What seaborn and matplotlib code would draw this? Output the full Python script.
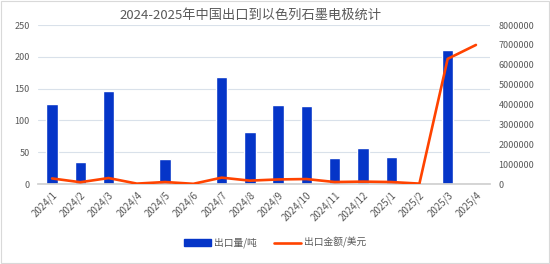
import numpy as np
import pandas as pd
import matplotlib
matplotlib.use("Agg")
import matplotlib.pyplot as plt
import seaborn as sns
from matplotlib.patches import Patch
from matplotlib.lines import Line2D

months = ["2024/1", "2024/2", "2024/3", "2024/4", "2024/5", "2024/6", "2024/7", "2024/8",
          "2024/9", "2024/10", "2024/11", "2024/12", "2025/1", "2025/2", "2025/3", "2025/4"]
qty_tons = [126, 34, 147, 0, 40, 0, 168, 82, 125, 123, 41, 57, 43, 0, 211, 0]
amount_usd = [280000, 90000, 300000, 20000, 100000, 10000, 320000, 170000, 230000, 250000,
              100000, 120000, 100000, 20000, 6300000, 7000000]

sns.set_theme(style="white")
plt.rcParams['font.family'] = ['Noto Sans CJK SC', 'DejaVu Sans']

TXT = "#595959"
BAR = "#0535C8"
LINE = "#FF4300"
GRID = "#D9E1EA"

df = pd.DataFrame({"month": months, "qty": qty_tons, "amt": amount_usd})

fig = plt.figure(figsize=(5.5, 2.64), dpi=100)
ax = fig.add_axes([0.069, 0.303, 0.822, 0.602])
sns.barplot(data=df, x="month", y="qty", color=BAR, width=0.4, saturation=1, ax=ax)
ax.set_ylim(0, 250)
ax.set_yticks(range(0, 251, 50))
ax.set_xlim(-0.5, len(months) - 0.5)
ax.yaxis.grid(True, color=GRID, linewidth=0.8)
ax.set_axisbelow(True)
for s in ["top", "right", "left"]:
    ax.spines[s].set_visible(False)
ax.spines["bottom"].set_color("#D0D0D0")
ax.set_xlabel("")
ax.set_ylabel("")
ax.tick_params(axis="y", length=0, labelsize=6.5, labelcolor=TXT, pad=6)
ax.set_xticks(range(len(months)))
ax.set_xticklabels(months, rotation=45, ha="right", rotation_mode="anchor")
ax.tick_params(axis="x", length=0, labelsize=7, labelcolor=TXT, pad=4)
ax.set_xticks(np.arange(-0.5, len(months), 1), minor=True)
ax.tick_params(axis="x", which="minor", length=3, color="#D0D0D0", width=0.8)

ax2 = ax.twinx()
sns.lineplot(x=np.arange(len(months)), y=df["amt"], color=LINE, linewidth=1.9, ax=ax2)
ax2.set_ylim(0, 8000000)
ax2.set_yticks(range(0, 8000001, 1000000))
ax2.set_yticklabels([str(v) for v in range(0, 8000001, 1000000)])
ax2.tick_params(axis="y", length=0, labelsize=6.5, labelcolor=TXT, pad=6)
ax2.set_ylabel("")
for s in ["top", "right", "left", "bottom"]:
    ax2.spines[s].set_visible(False)
ax2.grid(False)

fig.suptitle("2024-2025年中国出口到以色列石墨电极统计", x=0.455, y=0.965,
             fontsize=9.5, color=TXT)

handles = [Patch(facecolor=BAR, edgecolor=BAR), Line2D([0], [0], color=LINE, linewidth=1.9)]
fig.legend(handles, ["出口量/吨", "出口金额/美元"], loc="center", bbox_to_anchor=(0.5, 0.08),
           ncol=2, frameon=False, fontsize=7, labelcolor=TXT, handlelength=2.8,
           handleheight=0.6, columnspacing=1.8, handletextpad=0.3)

fig.patches.append(plt.Rectangle((0.001, 0.002), 0.997, 0.995, transform=fig.transFigure,
                                 fill=False, edgecolor="#D9D9D9", linewidth=0.8))
fig.savefig("out.png", dpi=100)
